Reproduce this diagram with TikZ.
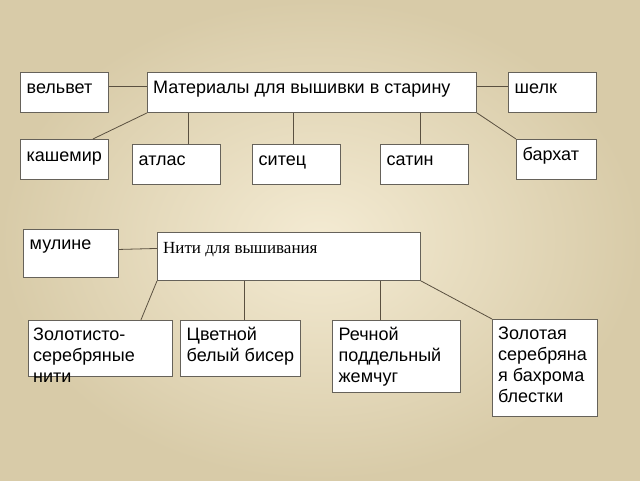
\documentclass[tikz,border=0pt]{standalone}
\usepackage{fontspec}
\setmainfont{Liberation Sans}
\newfontfamily\timesfont{Liberation Serif}
\usetikzlibrary{positioning}

\definecolor{bgin}{HTML}{F4EBD3}
\definecolor{bgout}{HTML}{D8CBA8}
\definecolor{boxgray}{HTML}{66625A}
\definecolor{linkbrown}{HTML}{5A5040}

\begin{document}
\begin{tikzpicture}[x=1pt, y=-1pt,
    box/.style={draw=boxgray, fill=white, line width=0.9pt, inner sep=0pt, anchor=north west},
    lbl/.style={inner sep=0pt, align=left, font=\fontsize{18}{21}\selectfont, execute at begin node=\strut},
    link/.style={draw=linkbrown, line width=0.8pt}]
        \useasboundingbox (0,0) rectangle (640,480);
        \fill[inner color=bgin, outer color=bgout] (0,0) rectangle (640,480);

        % materials
        \node (velvet) [box, minimum width=88pt, minimum height=40pt] at (20,72) {};
        \node (materials) [box, minimum width=329pt, minimum height=40pt] at (147,72) {};
        \node (silk) [box, minimum width=88pt, minimum height=40pt] at (508,72) {};
        \node (cashmere) [box, minimum width=88pt, minimum height=40pt] at (20,139) {};
        \node (satinweave) [box, minimum width=88pt, minimum height=40pt] at (132,144) {};
        \node (chintz) [box, minimum width=88pt, minimum height=40pt] at (252,144) {};
        \node (sateen) [box, minimum width=88pt, minimum height=40pt] at (380,144) {};
        \node (plush) [box, minimum width=80pt, minimum height=40pt] at (516,139) {};

        \node (velvet-t) [lbl, below right=6.8pt and 6.5pt of velvet.north west] {вельвет};
        \node (materials-t) [lbl, below right=6.8pt and 6pt of materials.north west] {Материалы для вышивки в старину};
        \node (silk-t) [lbl, below right=6.8pt and 6.5pt of silk.north west] {шелк};
        \node (cashmere-t) [lbl, below right=7.3pt and 6.5pt of cashmere.north west] {кашемир};
        \node (satinweave-t) [lbl, below right=6.8pt and 6.5pt of satinweave.north west] {атлас};
        \node (chintz-t) [lbl, below right=6.8pt and 6.5pt of chintz.north west] {ситец};
        \node (sateen-t) [lbl, below right=6.8pt and 6.5pt of sateen.north west] {сатин};
        \node (plush-t) [lbl, below right=6.8pt and 6.5pt of plush.north west] {бархат};

        \draw[link] ([yshift=6pt]velvet.east) -- ([yshift=6pt]materials.west);
        \draw[link] ([yshift=6pt]materials.east) -- ([yshift=6pt]silk.west);
        \draw[link] (materials.south west) -- ([xshift=-16pt]cashmere.north east);
        \draw[link] ([xshift=12pt]satinweave.north) -- ([xshift=12pt]satinweave.north |- materials.south);
        \draw[link] ([xshift=-3pt]chintz.north) -- ([xshift=-3pt]chintz.north |- materials.south);
        \draw[link] ([xshift=-4pt]sateen.north) -- ([xshift=-4pt]sateen.north |- materials.south);
        \draw[link] (materials.south east) -- (plush.north west);

        % threads
        \node (mouline) [box, minimum width=95pt, minimum height=48pt] at (23,229) {};
        \node (threads) [box, minimum width=263pt, minimum height=48pt] at (157,232) {};
        \node (goldthread) [box, minimum width=144pt, minimum height=56pt] at (28,320) {};
        \node (beads) [box, minimum width=120pt, minimum height=56pt] at (180,320) {};
        \node (pearl) [box, minimum width=128pt, minimum height=72pt] at (332,320) {};
        \node (fringe) [box, minimum width=105pt, minimum height=97pt] at (492,319) {};

        \node (mouline-t) [lbl, below right=5.5pt and 6.5pt of mouline.north west] {мулине};
        \node (threads-t) [lbl, font=\timesfont\fontsize{17}{20}\selectfont, below right=7pt and 6pt of threads.north west] {Нити для вышивания};
        \node (goldthread-t) [lbl, below right=7.3pt and 5pt of goldthread.north west] {Золотисто-\\серебряные\\нити};
        \node (beads-t) [lbl, below right=7.3pt and 6.5pt of beads.north west] {Цветной\\белый бисер};
        \node (pearl-t) [lbl, below right=7.3pt and 6.5pt of pearl.north west] {Речной\\поддельный\\жемчуг};
        \node (fringe-t) [lbl, below right=7.3pt and 6pt of fringe.north west] {Золотая\\серебряна\\я бахрома\\блестки};

        \draw[link] ([yshift=4pt]mouline.east) -- ([yshift=8pt]threads.west);
        \draw[link] (threads.south west) -- ([xshift=-32pt]goldthread.north east);
        \draw[link] ([xshift=4pt]beads.north) -- ([xshift=4pt]beads.north |- threads.south);
        \draw[link] ([xshift=-16pt]pearl.north) -- ([xshift=-16pt]pearl.north |- threads.south);
        \draw[link] (threads.south east) -- (fringe.north west);
    \end{tikzpicture}
\end{document}
